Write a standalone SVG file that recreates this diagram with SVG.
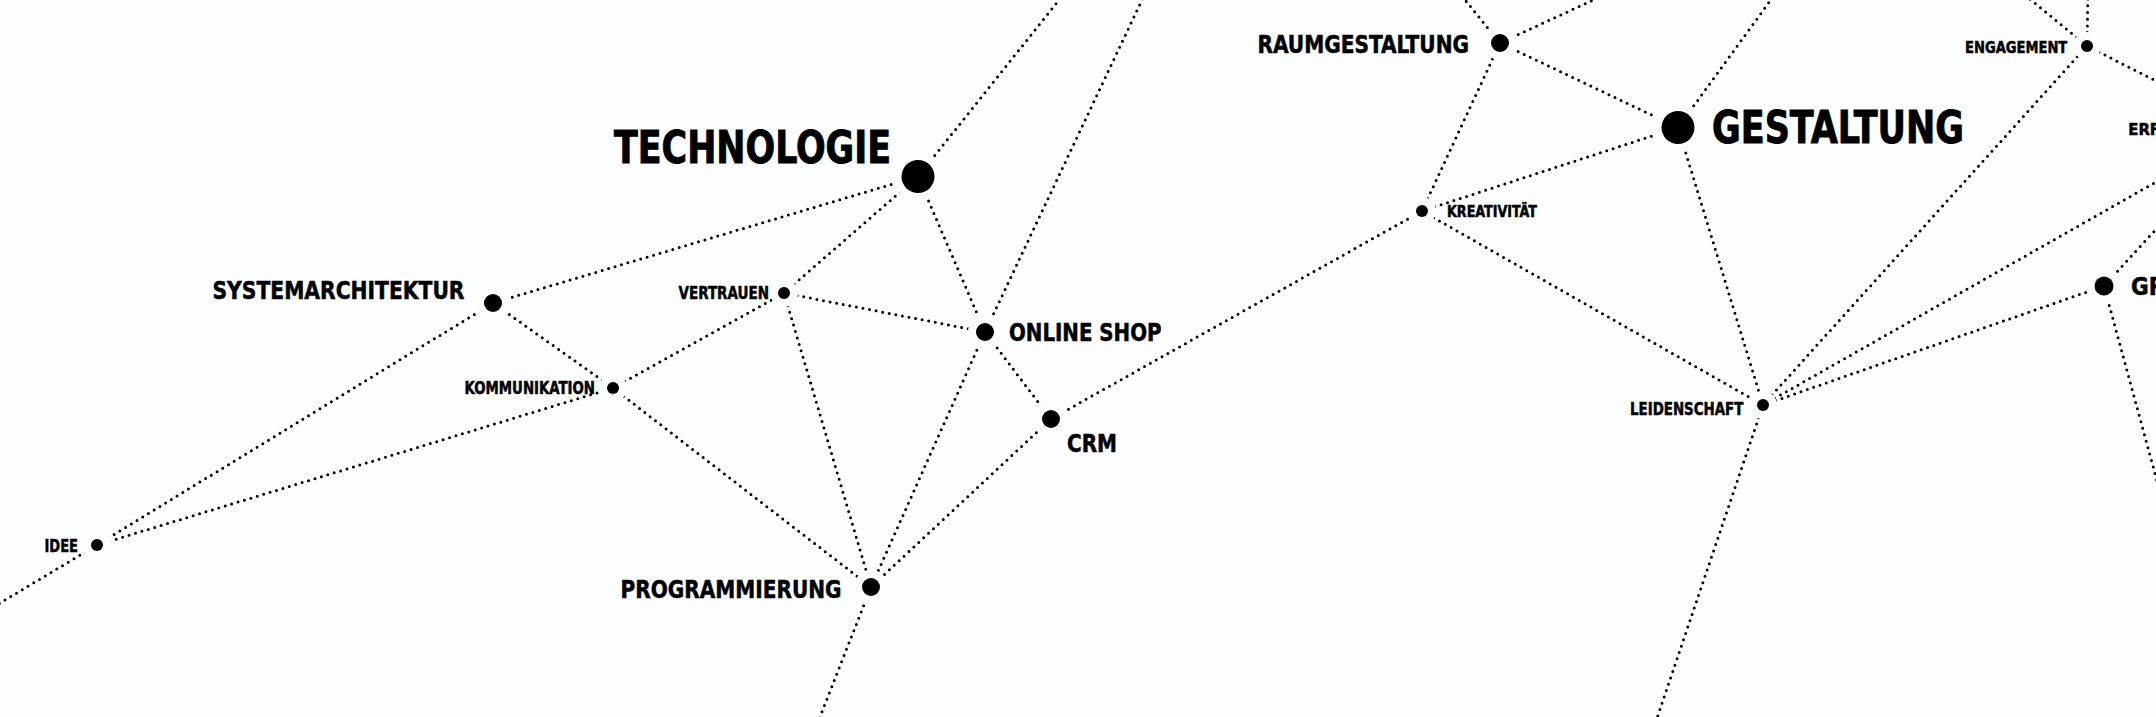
<svg xmlns="http://www.w3.org/2000/svg" width="2156" height="717" viewBox="0 0 2156 717">
<style>
.bg{fill:#fcfdfd}
.e{stroke:#000;stroke-width:3;stroke-linecap:round;stroke-dasharray:0 6.7;fill:none}
.halo{fill:#fcfdfd}
.dot{fill:#000}
text{font-family:"DejaVu Sans Condensed","DejaVu Sans","Liberation Sans Narrow",sans-serif;font-stretch:condensed;font-weight:bold;fill:#000;stroke:#000;stroke-width:0.5}
.big{stroke-width:0.9}
</style>
<rect class="bg" x="0" y="0" width="2156" height="717"/>
<g id="connectors">
<line class="e" x1="97" y1="545" x2="-30" y2="621"/>
<line class="e" x1="97" y1="545" x2="493" y2="303"/>
<line class="e" x1="97" y1="545" x2="613" y2="388"/>
<line class="e" x1="493" y1="303" x2="918" y2="176.5"/>
<line class="e" x1="493" y1="303" x2="613" y2="388"/>
<line class="e" x1="613" y1="388" x2="784" y2="293"/>
<line class="e" x1="613" y1="388" x2="871" y2="587"/>
<line class="e" x1="784" y1="293" x2="918" y2="176.5"/>
<line class="e" x1="784" y1="293" x2="985" y2="332"/>
<line class="e" x1="784" y1="293" x2="871" y2="587"/>
<line class="e" x1="918" y1="176.5" x2="985" y2="332"/>
<line class="e" x1="918" y1="176.5" x2="1067" y2="-10"/>
<line class="e" x1="985" y1="332" x2="1146.7" y2="-10"/>
<line class="e" x1="985" y1="332" x2="871" y2="587"/>
<line class="e" x1="985" y1="332" x2="1051" y2="419"/>
<line class="e" x1="1051" y1="419" x2="871" y2="587"/>
<line class="e" x1="1051" y1="419" x2="1422" y2="211"/>
<line class="e" x1="871" y1="587" x2="816" y2="727"/>
<line class="e" x1="1422" y1="211" x2="1500" y2="43"/>
<line class="e" x1="1422" y1="211" x2="1678" y2="127.5"/>
<line class="e" x1="1422" y1="211" x2="1763" y2="405"/>
<line class="e" x1="1500" y1="43" x2="1678" y2="127.5"/>
<line class="e" x1="1500" y1="43" x2="1457" y2="-10"/>
<line class="e" x1="1500" y1="43" x2="1615" y2="-10"/>
<line class="e" x1="1678" y1="127.5" x2="1778" y2="-10"/>
<line class="e" x1="1678" y1="127.5" x2="1763" y2="405"/>
<line class="e" x1="1763" y1="405" x2="2087" y2="46"/>
<line class="e" x1="1763" y1="405" x2="2170" y2="174"/>
<line class="e" x1="1763" y1="405" x2="2104" y2="286"/>
<line class="e" x1="1763" y1="405" x2="1654" y2="727"/>
<line class="e" x1="2087" y1="46" x2="2019" y2="-10"/>
<line class="e" x1="2087" y1="46" x2="2088" y2="-10"/>
<line class="e" x1="2087" y1="46" x2="2170" y2="88"/>
<line class="e" x1="2104" y1="286" x2="2170" y2="214"/>
<line class="e" x1="2104" y1="286" x2="2160" y2="492"/>
</g>
<g id="node-idee"><circle class="halo" cx="97" cy="545" r="15"/><circle class="dot" cx="97" cy="545" r="6"/><text x="44.5" y="551.5" font-size="17" textLength="33.5" lengthAdjust="spacingAndGlyphs">IDEE</text></g>
<g id="node-systemarchitektur"><circle class="halo" cx="493" cy="303" r="17"/><circle class="dot" cx="493" cy="303" r="9"/><text x="212.5" y="299" font-size="25" textLength="252" lengthAdjust="spacingAndGlyphs">SYSTEMARCHITEKTUR</text></g>
<g id="node-kommunikation"><circle class="halo" cx="613" cy="388" r="14"/><circle class="dot" cx="613" cy="388" r="6"/><text x="464.6" y="394" font-size="17.5" textLength="130.4" lengthAdjust="spacingAndGlyphs">KOMMUNIKATION</text></g>
<g id="node-vertrauen"><circle class="halo" cx="784" cy="293" r="14"/><circle class="dot" cx="784" cy="293" r="6"/><text x="678.5" y="299" font-size="17" textLength="90.5" lengthAdjust="spacingAndGlyphs">VERTRAUEN</text></g>
<g id="node-technologie"><circle class="halo" cx="918" cy="176.5" r="25"/><circle class="dot" cx="918" cy="176.5" r="16.5"/><text class="big" x="614" y="163" font-size="45" textLength="277" lengthAdjust="spacingAndGlyphs">TECHNOLOGIE</text></g>
<g id="node-online-shop"><circle class="halo" cx="985" cy="332" r="17"/><circle class="dot" cx="985" cy="332" r="9"/><text x="1009" y="340.5" font-size="24" textLength="152.5" lengthAdjust="spacingAndGlyphs">ONLINE SHOP</text></g>
<g id="node-crm"><circle class="halo" cx="1051" cy="419" r="17"/><circle class="dot" cx="1051" cy="419" r="9"/><text x="1067" y="451.5" font-size="24" textLength="50" lengthAdjust="spacingAndGlyphs">CRM</text></g>
<g id="node-programmierung"><circle class="halo" cx="871" cy="587" r="17"/><circle class="dot" cx="871" cy="587" r="9"/><text x="620.5" y="598" font-size="25" textLength="221" lengthAdjust="spacingAndGlyphs">PROGRAMMIERUNG</text></g>
<g id="node-kreativitaet"><circle class="halo" cx="1422" cy="211" r="14"/><circle class="dot" cx="1422" cy="211" r="6"/><text x="1447" y="216.7" font-size="15.5" textLength="90" lengthAdjust="spacingAndGlyphs">KREATIVITÄT</text></g>
<g id="node-raumgestaltung"><circle class="halo" cx="1500" cy="43" r="17"/><circle class="dot" cx="1500" cy="43" r="9"/><text x="1257.5" y="53" font-size="24" textLength="211.5" lengthAdjust="spacingAndGlyphs">RAUMGESTALTUNG</text></g>
<g id="node-gestaltung"><circle class="halo" cx="1678" cy="127.5" r="25"/><circle class="dot" cx="1678" cy="127.5" r="16.5"/><text class="big" x="1712" y="143" font-size="45" textLength="252" lengthAdjust="spacingAndGlyphs">GESTALTUNG</text></g>
<g id="node-leidenschaft"><circle class="halo" cx="1763" cy="405" r="14"/><circle class="dot" cx="1763" cy="405" r="6"/><text x="1630" y="415" font-size="17" textLength="113.4" lengthAdjust="spacingAndGlyphs">LEIDENSCHAFT</text></g>
<g id="node-engagement"><circle class="halo" cx="2087" cy="46" r="14"/><circle class="dot" cx="2087" cy="46" r="6"/><text x="1965" y="52.7" font-size="16.5" textLength="102.3" lengthAdjust="spacingAndGlyphs">ENGAGEMENT</text></g>
<g id="node-erf"><text x="2128.3" y="135" font-size="16.5">ERF</text></g>
<g id="node-gr"><circle class="halo" cx="2104" cy="286" r="17.5"/><circle class="dot" cx="2104" cy="286" r="9.5"/><text x="2131" y="295" font-size="24">GR</text></g>
</svg>
